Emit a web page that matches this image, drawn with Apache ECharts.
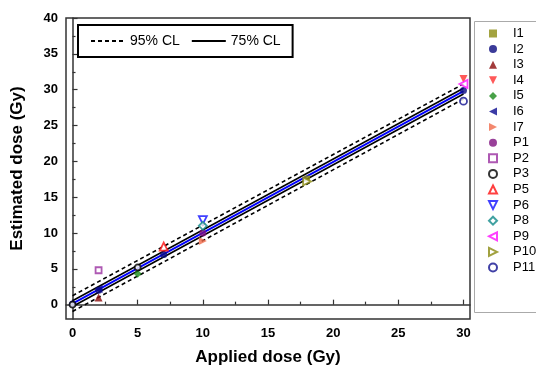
<!DOCTYPE html>
<html>
<head>
<meta charset="utf-8">
<script src="https://cdn.jsdelivr.net/npm/echarts@6/dist/echarts.min.js"></script>
<style>html,body{margin:0;padding:0;background:#fff}#c{width:536px;height:376px}</style>
</head>
<body>
<div id="c"></div>
<script>
// ---- data ----
const xMajorTicks = [0, 5, 10, 15, 20, 25, 30];
const xMinorTicks = [2.5, 7.5, 12.5, 17.5, 22.5, 27.5];
const yMajorTicks = [0, 5, 10, 15, 20, 25, 30, 35, 40];
const yMinorTicks = [2.5, 7.5, 12.5, 17.5, 22.5, 27.5, 32.5, 37.5];

const lineX = [0, 30];
const fitY = [0.15, 29.8];
const cl75Upper = [0.55, 30.2];
const cl75Lower = [-0.25, 29.4];
const cl95Upper = [1.25, 30.8];
const cl95Lower = [-0.95, 28.7];

const I1 = [[18, 17.6]];
const I2 = [[0, 0.1], [2, 2.0], [7, 7.0], [30, 29.9]];
const I3 = [[2, 1.0]];
const I4 = [[30, 31.5]];
const I5 = [[5, 4.3]];
const I6 = [[2, 2.2]];
const I7 = [[10, 8.9]];
const P1 = [[10, 10.0]];
const P2 = [[2, 4.8]];
const P3 = [[0, 0], [5, 5.2]];
const P5 = [[7, 8.1]];
const P6 = [[10, 11.8]];
const P8 = [[10, 11.0]];
const P9 = [[30, 30.8]];
const P10 = [[18, 17.2]];
const P11 = [[30, 28.4]];

const seriesNames = ['I1','I2','I3','I4','I5','I6','I7','P1','P2','P3','P5','P6','P8','P9','P10','P11'];
const seriesData = [I1,I2,I3,I4,I5,I6,I7,P1,P2,P3,P5,P6,P8,P9,P10,P11];

// ---- styles ----
const SQUARE = 'path://M0,0L10,0L10,10L0,10Z';
const CIRCLE = 'path://M5,0A5,5,0,1,1,5,10A5,5,0,1,1,5,0Z';
const UP = 'path://M5,0L10,10L0,10Z';
const DIAMOND = 'path://M5,0L10,5L5,10L0,5Z';
const DOWN = 'path://M0,0L10,0L5,10Z';
const LEFT = 'path://M10,0L10,10L0,5Z';
const RIGHT = 'path://M0,0L0,10L10,5Z';
const styles = {
  I1: {symbol: SQUARE, color: '#8c8c10', open: false, size: 6},
  I2: {symbol: CIRCLE, color: '#0a0a80', open: false, size: 7},
  I3: {symbol: UP, color: '#8b0a0a', open: false, size: 8},
  I4: {symbol: DOWN, color: '#ff3030', open: false, size: 8},
  I5: {symbol: DIAMOND, color: '#1a8a1a', open: false, size: 8},
  I6: {symbol: LEFT, color: '#0a0a90', open: false, size: 8},
  I7: {symbol: RIGHT, color: '#f06a4a', open: false, size: 8},
  P1: {symbol: CIRCLE, color: '#801080', open: false, size: 7},
  P2: {symbol: SQUARE, color: '#9a30a0', open: true, size: 6},
  P3: {symbol: CIRCLE, color: '#000000', open: true, size: 6},
  P5: {symbol: UP, color: '#ff1010', open: true, size: 8},
  P6: {symbol: DOWN, color: '#1010ff', open: true, size: 8},
  P8: {symbol: DIAMOND, color: '#108a8a', open: true, size: 8},
  P9: {symbol: LEFT, color: '#ff10ff', open: true, size: 8},
  P10: {symbol: RIGHT, color: '#8a8a10', open: true, size: 8},
  P11: {symbol: CIRCLE, color: '#101090', open: true, size: 7}
};

const FONT = 'Liberation Sans, Arial, sans-serif';

function pairs(xs, ys) { return xs.map((x, i) => [x, ys[i]]); }

const series = [];
const lineCommon = {type: 'line', symbol: 'none', showSymbol: false, symbolSize: 0, z: 2, silent: true,
  itemStyle: {color: '#000', opacity: 0}};
series.push(Object.assign({name: '95% CL', data: pairs(lineX, cl95Upper),
  lineStyle: {color: '#000', width: 1.6, type: [4, 3]}}, lineCommon));
series.push(Object.assign({name: '95% CL', data: pairs(lineX, cl95Lower),
  lineStyle: {color: '#000', width: 1.6, type: [4, 3]}}, lineCommon));
series.push(Object.assign({name: '75% CL', data: pairs(lineX, cl75Upper),
  lineStyle: {color: '#000', width: 1.6}}, lineCommon));
series.push(Object.assign({name: '75% CL', data: pairs(lineX, cl75Lower),
  lineStyle: {color: '#000', width: 1.6}}, lineCommon));
series.push(Object.assign({name: 'fit', data: pairs(lineX, fitY),
  lineStyle: {color: '#0000ff', width: 1.8}}, lineCommon, {z: 3}));

seriesNames.forEach((n, i) => {
  const s = styles[n];
  series.push({
    name: n, type: 'scatter', data: seriesData[i], symbol: s.symbol, symbolSize: s.size,
    symbolKeepAspect: true, z: 5,
    itemStyle: s.open ? {color: '#ffffff', borderColor: s.color, borderWidth: 1.8}
                      : {color: s.color, borderWidth: 0}
  });
});

const chart = echarts.init(document.getElementById('c'), null, {renderer: 'canvas'});
chart.setOption({
  animation: false,
  backgroundColor: '#fff',
  grid: {left: 66, right: 66, top: 18, bottom: 57, show: true, borderColor: '#333', borderWidth: 1.5, backgroundColor: 'transparent'},
  graphic: [
    {type: 'rect', left: 472, top: 19, shape: {width: 80, height: 291},
     style: {fill: 'none', stroke: '#aaa', lineWidth: 1}, z: 1, silent: true}
  ],
  legend: [
    {data: ['95% CL', '75% CL'], left: 78, top: 25, orient: 'horizontal',
     padding: [9, 12, 9, 12], borderColor: '#000', borderWidth: 2,
     itemWidth: 34, itemHeight: 14, itemGap: 11, itemTextGap: 1,
     itemStyle: {opacity: 0},
     textStyle: {fontSize: 14, fontFamily: FONT, color: '#000'}, selectedMode: false},
    {data: seriesNames, left: 488, top: 27, orient: 'vertical',
     padding: 0, borderWidth: 0,
     itemWidth: 8, itemHeight: 8, itemGap: 2.6, itemTextGap: 5,
     textStyle: {fontSize: 13, fontFamily: FONT, color: '#000', padding: [0, 0, 0, 11]}, selectedMode: false}
  ],
  xAxis: [
    {type: 'value', min: -0.5, max: 30.5, position: 'bottom',
     name: 'Applied dose (Gy)', nameLocation: 'middle', nameGap: 30,
     nameTextStyle: {fontSize: 17, fontWeight: 'bold', fontFamily: FONT, color: '#000'},
     axisLine: {show: true, lineStyle: {color: '#333', width: 1.5}},
     axisTick: {show: true, inside: true, length: 5, customValues: xMajorTicks, lineStyle: {color: '#333', width: 1.2}},
     axisLabel: {customValues: xMajorTicks, margin: 8, fontSize: 13, fontWeight: 'bold', fontFamily: FONT, color: '#000'},
     splitLine: {show: false}},
    {type: 'value', min: -0.5, max: 30.5, position: 'bottom', offset: 0,
     axisLine: {show: false},
     axisTick: {show: true, inside: true, length: 3, customValues: xMinorTicks, lineStyle: {color: '#333', width: 1.2}},
     axisLabel: {show: false}, splitLine: {show: false}}
  ],
  yAxis: [
    {type: 'value', min: -2, max: 40, position: 'left',
     name: 'Estimated dose (Gy)', nameLocation: 'middle', nameGap: 40,
     nameTextStyle: {fontSize: 17, fontWeight: 'bold', fontFamily: FONT, color: '#000'},
     axisLine: {show: true, lineStyle: {color: '#333', width: 1.5}},
     axisTick: {show: true, inside: true, length: 5, customValues: yMajorTicks, lineStyle: {color: '#333', width: 1.2}},
     axisLabel: {customValues: yMajorTicks, margin: 8, fontSize: 13, fontWeight: 'bold', fontFamily: FONT, color: '#000'},
     splitLine: {show: false}},
    {type: 'value', min: -2, max: 40, position: 'left', offset: 0,
     axisLine: {show: false},
     axisTick: {show: true, inside: true, length: 3, customValues: yMinorTicks, lineStyle: {color: '#333', width: 1.2}},
     axisLabel: {show: false}, splitLine: {show: false}}
  ],
  series: series
});
</script>
</body>
</html>
